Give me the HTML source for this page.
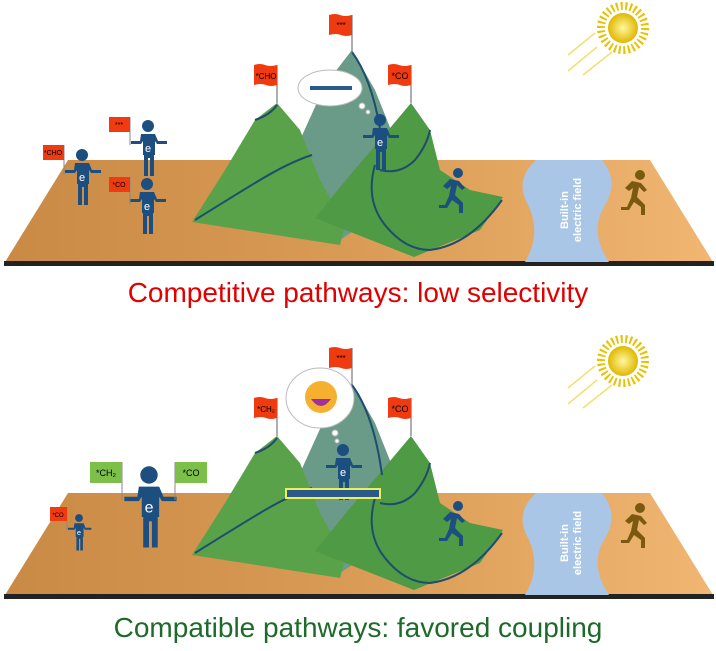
<!DOCTYPE html>
<html><head><style>
html,body{margin:0;padding:0;background:#fff;width:716px;height:651px;overflow:hidden}
svg{display:block}
text{font-family:"Liberation Sans",sans-serif}
</style></head><body>
<svg width="716" height="651" viewBox="0 0 716 651">
<defs>
<linearGradient id="board" x1="0" y1="0" x2="1" y2="0">
<stop offset="0" stop-color="#c98a45"/><stop offset="0.5" stop-color="#d99b55"/><stop offset="1" stop-color="#f0b672"/></linearGradient>
<radialGradient id="sun"><stop offset="0" stop-color="#fff7a0"/><stop offset="1" stop-color="#e0b800"/></radialGradient>
<g id="person" fill="#1d4e80">
<circle cx="0" cy="0" r="6"/>
<path d="M-7,8 h14 l3,7 h9 v3 h-10 l-2,-3 v14 h-1 v21 h-4 v-18 h-2 v18 h-4 v-21 h-1 v-14 l-2,3 h-10 v-3 h9 z"/>
<text x="0" y="26" font-size="11" fill="#fff" text-anchor="middle">e</text>
</g>
<g id="flag"><line x1="0" y1="0" x2="0" y2="38" stroke="#777" stroke-width="1.2"/><path d="M-23,0 q6,-2 11,0 t12,0 v20 q-6,2 -11,0 t-12,0 z" fill="#f03a10"/></g>
<g id="runner"><circle cx="6" cy="0" r="5"/><path d="M-2,6 l9,2 l6,7 l-3,2 l-5,-5 l-2,10 l8,8 v10 h-4 v-8 l-7,-5 l-5,8 h-8 v-3 h6 l4,-9 l2,-10 l-4,3 l-4,-3 z"/></g>
<g id="panel">
<polygon points="68,160 650,160 713,262 5,262" fill="url(#board)"/>
<rect x="4" y="261" width="710" height="5" fill="#222"/>
<path d="M536,160 q-22,20 -8,45 q14,28 -3,57 h84 q-20,-30 -5,-55 q16,-25 -2,-47 z" fill="#a9c6e6"/>
<text transform="translate(568,210) rotate(-90)" font-size="11" font-weight="bold" fill="#fff" text-anchor="middle">Built-in</text>
<text transform="translate(581,210) rotate(-90)" font-size="11" font-weight="bold" fill="#fff" text-anchor="middle">electric field</text>
<!-- mountains -->
<polygon points="352,50 375,90 395,140 400,200 340,240 300,140 325,85" fill="#6a9a88"/>
<polygon points="277,103 300,130 320,180 345,225 340,245 192,222 225,170 255,120" fill="#5aa24a"/>
<polygon points="411,103 430,130 440,170 470,190 503,197 480,230 414,257 315,218 350,175 380,140" fill="#4f9a45"/>
<path d="M195,220 q40,-25 65,-40 q30,-18 52,-25" stroke="#1e4d6e" stroke-width="2" fill="none"/>
<path d="M255,120 q15,-5 22,-15" stroke="#1e4d6e" stroke-width="2" fill="none"/>
<path d="M375,165 q-10,35 10,60 q20,25 45,25 q40,-5 72,-50" stroke="#1e4d6e" stroke-width="2" fill="none"/>
<path d="M380,170 q20,5 35,-10 q12,-15 15,-30" stroke="#1e4d6e" stroke-width="2" fill="none"/>
<path d="M352,52 q22,30 30,90" stroke="#1e4d6e" stroke-width="2" fill="none"/>
<!-- sun -->
<g transform="translate(623,28)"><circle r="22" fill="none" stroke="#e8c200" stroke-width="8" stroke-dasharray="2 2.6"/><circle r="15" fill="url(#sun)"/></g>
<g stroke="#f2e070" stroke-width="1.5"><line x1="595" y1="33" x2="568" y2="55"/><line x1="597" y1="47" x2="568" y2="71"/><line x1="612" y1="52" x2="583" y2="75"/></g>
<use href="#runner" x="634" y="175" fill="#7a5a10"/>
<use href="#runner" x="452" y="173" fill="#1d4e80"/>
<g transform="translate(352,15)"><use href="#flag"/><text x="-11" y="13" font-size="8" text-anchor="middle">***</text></g>
</g>
</defs>

<use href="#panel"/>
<use href="#panel" y="333"/>

<!-- top panel extras -->
<g transform="translate(411,65)"><use href="#flag"/><text x="-11" y="14" font-size="9" text-anchor="middle">*CO</text></g>
<g transform="translate(277,65)"><use href="#flag"/><text x="-11" y="14" font-size="8" text-anchor="middle">*CHO</text></g>
<use href="#person" x="82" y="155"/>
<use href="#person" x="148" y="126"/>
<use href="#person" x="147" y="184"/>
<use href="#person" x="380" y="120"/>
<g stroke="#888" stroke-width="1"><line x1="64" y1="145" x2="64" y2="175"/><line x1="130" y1="117" x2="130" y2="145"/><line x1="130" y1="177" x2="130" y2="205"/></g>
<g fill="#f03a10"><path d="M43,145 h21 v15 h-21z"/><path d="M109,117 h21 v15 h-21z"/><path d="M109,177 h21 v15 h-21z"/></g>
<text x="53" y="155" font-size="7" text-anchor="middle">*CHO</text>
<text x="119" y="127" font-size="7" text-anchor="middle">***</text>
<text x="119" y="187" font-size="7" text-anchor="middle">*CO</text>
<ellipse cx="330" cy="88" rx="32" ry="18" fill="#fff" stroke="#bbb"/>
<rect x="310" y="86" width="42" height="4" fill="#2b5a8a"/>
<circle cx="362" cy="106" r="3" fill="#fff" stroke="#bbb"/><circle cx="368" cy="112" r="2" fill="#fff" stroke="#bbb"/>
<text x="358" y="302" font-size="28" fill="#e00000" text-anchor="middle">Competitive pathways: low selectivity</text>

<!-- bottom panel extras -->
<g transform="translate(411,398)"><use href="#flag"/><text x="-11" y="14" font-size="9" text-anchor="middle">*CO</text></g>
<g transform="translate(277,398)"><use href="#flag"/><text x="-11" y="14" font-size="8" text-anchor="middle">*CH₂</text></g>
<g transform="translate(149,475) scale(1.45)"><use href="#person"/></g>
<g transform="translate(79,518) scale(0.65)"><use href="#person"/></g>
<use href="#person" x="343" y="450"/>
<g stroke="#888" stroke-width="1"><line x1="122" y1="462" x2="122" y2="500"/><line x1="175" y1="462" x2="175" y2="500"/><line x1="67" y1="507" x2="67" y2="530"/></g>
<g fill="#7cc04a"><path d="M90,462 h32 v21 h-32z"/><path d="M175,462 h32 v21 h-32z"/></g>
<text x="106" y="476" font-size="9" text-anchor="middle">*CH₂</text>
<text x="191" y="476" font-size="9" text-anchor="middle">*CO</text>
<path d="M50,507 h17 v14 h-17z" fill="#f03a10"/>
<text x="58" y="517" font-size="6" text-anchor="middle">*CO</text>
<rect x="286" y="489" width="94" height="9" fill="#2b5a8a" stroke="#e8f060" stroke-width="2"/>
<ellipse cx="320" cy="398" rx="34" ry="30" fill="#fff" stroke="#bbb"/>
<circle cx="335" cy="433" r="3" fill="#fff" stroke="#bbb"/><circle cx="337" cy="441" r="2" fill="#fff" stroke="#bbb"/>
<circle cx="321" cy="397" r="16" fill="#f5b030"/>
<path d="M311,399 q10,14 20,0 z" fill="#a030a0"/>
<text x="358" y="637" font-size="28" fill="#1e6a2a" text-anchor="middle">Compatible pathways: favored coupling</text>
</svg>
</body></html>
